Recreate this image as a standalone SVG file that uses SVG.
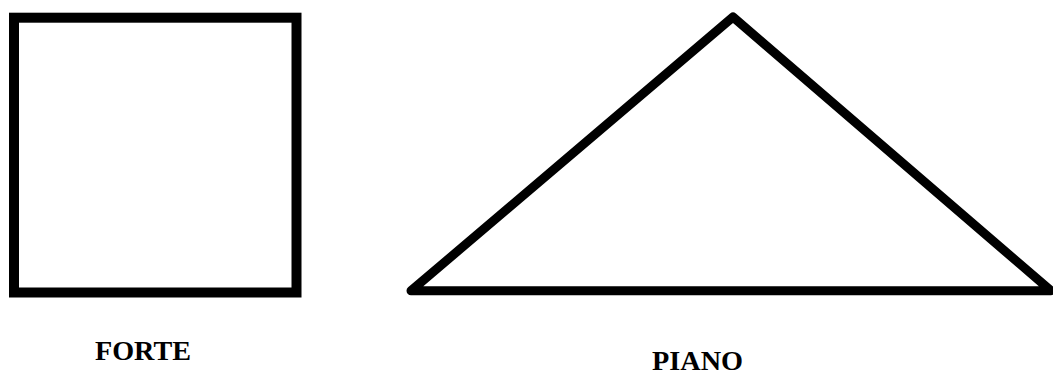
<svg xmlns="http://www.w3.org/2000/svg" width="1053" height="374" viewBox="0 0 1053 374">
<style>
.shape{fill:none;stroke:#000;stroke-width:10}
.tri{fill:none;stroke:#000;stroke-width:9;stroke-linejoin:round}
.lbl{font-family:"Liberation Serif","DejaVu Serif",serif;font-weight:bold;font-size:27px;fill:#000}
</style>
<rect width="1053" height="374" fill="#fff"/>
<g id="forte">
<rect class="shape" x="14" y="17.7" width="282.5" height="274.8"/>
<text class="lbl" x="95" y="360" textLength="96" lengthAdjust="spacingAndGlyphs">FORTE</text>
</g>
<g id="piano">
<polygon class="tri" points="411,290.8 733,17 1051,290.8"/>
<text class="lbl" x="652" y="370" textLength="91" lengthAdjust="spacingAndGlyphs">PIANO</text>
</g>
<g id="connectors"/>
</svg>
